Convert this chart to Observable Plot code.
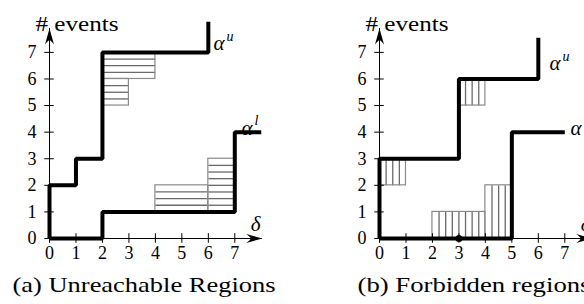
<!DOCTYPE html>
<html><head><meta charset="utf-8">
<script src="https://cdn.jsdelivr.net/npm/d3@7"></script>
<script src="https://cdn.jsdelivr.net/npm/@observablehq/plot@0.6"></script>
<style>
body{margin:0;background:#fff;}
#wrap{width:584px;height:304px;overflow:hidden;display:flex;}
#wrap svg{flex:0 0 auto;overflow:visible;}
</style></head><body><div id="wrap"></div>
<script>
// shared axis ticks
const ticks = [0, 1, 2, 3, 4, 5, 6, 7];
const axisEnd = {x: 8.04, y: 7.9};
const axisTitle = "# events";

// Panel (a) Unreachable Regions
const aUpperX = [0, 0, 1, 1, 2, 2, 6, 6];
const aUpperY = [0, 2, 2, 3, 3, 7, 7, 8.15];
const aLowerX = [0, 2, 2, 7, 7, 8];
const aLowerY = [0, 0, 1, 1, 4, 4];
const aRegions = [[2, 4, 6, 7], [2, 3, 5, 6], [4, 6, 1, 2], [6, 7, 1, 3]]; // x1, x2, y1, y2
const aLabelX = [6.2, 7.25];
const aLabelY = [7.33, 4.16];
const aLabelSup = ["u", "l"];
const aCaption = "(a) Unreachable Regions";

// Panel (b) Forbidden regions
const bUpperX = [0, 0, 3, 3, 6, 6];
const bUpperY = [0, 3, 3, 6, 6, 7.55];
const bLowerX = [0, 5, 5, 7];
const bLowerY = [0, 0, 4, 4];
const bRegions = [[0, 1, 2, 3], [3, 4, 5, 6], [2, 4, 0, 1], [4, 5, 0, 2]];
const bPointX = [3];
const bPointY = [0];
const bLabelX = [6.42, 7.22];
const bLabelY = [6.58, 4.14];
const bLabelSup = ["u", "l"];
const bCaption = "(b) Forbidden regions";

const deltaPos = {x: 7.6, y: 0.55};
const FONT = "'Liberation Serif', 'DejaVu Serif', 'Times New Roman', Times, serif";

// stealth (LaTeX-like) arrowhead, tip at origin pointing up
const stealth = {
  draw(ctx) {
    ctx.moveTo(0, 0);
    ctx.lineTo(4.5, 16);
    ctx.quadraticCurveTo(1.5, 12, 0, 11.5);
    ctx.quadraticCurveTo(-1.5, 12, -4.5, 16);
    ctx.closePath();
  }
};

function hatchLines(regions, dir) {
  const out = [];
  const step = 0.25;
  for (const [x1, x2, y1, y2] of regions) {
    if (dir === "h") {
      for (let v = y1 + step; v < y2 - 1e-6; v += step) out.push({x1, x2, y1: v, y2: v});
    } else {
      for (let v = x1 + step; v < x2 - 1e-6; v += step) out.push({x1: v, x2: v, y1, y2});
    }
  }
  return out;
}

function panel(cfg) {
  const upper = cfg.upperX.map((x, i) => ({x, y: cfg.upperY[i]}));
  const lower = cfg.lowerX.map((x, i) => ({x, y: cfg.lowerY[i]}));
  const regions = cfg.regions.map(([x1, x2, y1, y2]) => ({x1, x2, y1, y2}));
  const labels = cfg.labelX.map((x, i) => ({x, y: cfg.labelY[i], sup: cfg.labelSup[i]}));
  const points = (cfg.pointX || []).map((x, i) => ({x, y: cfg.pointY[i]}));
  const T = {fontFamily: FONT};
  const svg = Plot.plot({
    width: 330, height: 304,
    marginLeft: 49, marginRight: 56, marginTop: 12, marginBottom: 66,
    x: {domain: [0, 8.5], axis: null},
    y: {domain: [0, 8.5], axis: null},
    marks: [
      // hatched regions
      Plot.link(hatchLines(cfg.regions, cfg.hatch), {x1: "x1", x2: "x2", y1: "y1", y2: "y2", stroke: "#6a6a6a", strokeWidth: 1.3}),
      Plot.rect(regions, {x1: "x1", x2: "x2", y1: "y1", y2: "y2", fill: "none", stroke: "#8a8a8a", strokeWidth: 1.2}),
      // axes
      Plot.ruleY([0], {x1: 0, x2: axisEnd.x, stroke: "#000", strokeWidth: 1}),
      Plot.ruleX([0], {y1: 0, y2: axisEnd.y, stroke: "#000", strokeWidth: 1}),
      Plot.ruleX(ticks, {x: d => d, y1: -0.18, y2: 0.18, stroke: "#000", strokeWidth: 1}),
      Plot.ruleY(ticks, {y: d => d, x1: -0.18, x2: 0.18, stroke: "#000", strokeWidth: 1}),
      Plot.dot([{x: axisEnd.x, y: 0, r: 90}, {x: 0, y: axisEnd.y, r: 0}], {x: "x", y: "y", rotate: "r", symbol: stealth, fill: "#000", stroke: "none", r: 5}),
      // curves
      Plot.line(upper, {x: "x", y: "y", stroke: "#000", strokeWidth: 4, strokeLinejoin: "miter", strokeLinecap: "butt"}),
      Plot.line(lower, {x: "x", y: "y", stroke: "#000", strokeWidth: 4, strokeLinejoin: "miter", strokeLinecap: "butt"}),
      Plot.dot(points, {x: "x", y: "y", r: 3.5, fill: "#000"}),
      // tick labels
      Plot.text(ticks, {...T, x: d => d, y: 0, dy: 15, text: d => String(d), fontSize: 18}),
      Plot.text(ticks, {...T, x: 0, y: d => d, dx: -13, textAnchor: "end", text: d => String(d), fontSize: 18}),
      // curve labels
      Plot.text(labels, {...T, x: "x", y: "y", text: () => "α", textAnchor: "start", fontStyle: "italic", fontSize: 21}),
      Plot.text(labels, {...T, x: "x", y: "y", text: "sup", textAnchor: "start", fontStyle: "italic", fontSize: 14, dx: 13, dy: -7}),
      Plot.text([deltaPos], {...T, x: "x", y: "y", text: () => "δ", textAnchor: "start", fontStyle: "italic", fontSize: 21}),
      // axis title and caption
      Plot.text([axisTitle], {...T, frameAnchor: "top-left", dx: -14, dy: 4, textAnchor: "start", fontSize: 20}),
      Plot.text([cfg.caption], {...T, frameAnchor: "bottom-left", dx: cfg.captionDx, dy: 53, textAnchor: "start", fontSize: 22})
    ]
  });
  // LaTeX Computer Modern is wider than Times: stretch the long texts to the reference widths
  svg.querySelectorAll("text").forEach(t => {
    if (t.textContent === axisTitle) {
      t.setAttribute("textLength", 83); t.setAttribute("lengthAdjust", "spacingAndGlyphs");
    } else if (t.textContent === cfg.caption) {
      t.setAttribute("textLength", cfg.captionWidth); t.setAttribute("lengthAdjust", "spacingAndGlyphs");
    }
  });
  svg.style.overflow = "visible";
  svg.style.background = "transparent";
  svg.style.color = "#000";
  return svg;
}

const wrap = document.getElementById("wrap");
wrap.append(panel({upperX: aUpperX, upperY: aUpperY, lowerX: aLowerX, lowerY: aLowerY, regions: aRegions, hatch: "h",
  labelX: aLabelX, labelY: aLabelY, labelSup: aLabelSup, caption: aCaption, captionDx: -37, captionWidth: 263}));
wrap.append(panel({upperX: bUpperX, upperY: bUpperY, lowerX: bLowerX, lowerY: bLowerY, regions: bRegions, hatch: "v",
  pointX: bPointX, pointY: bPointY,
  labelX: bLabelX, labelY: bLabelY, labelSup: bLabelSup, caption: bCaption, captionDx: -22, captionWidth: 233}));
</script></body></html>
